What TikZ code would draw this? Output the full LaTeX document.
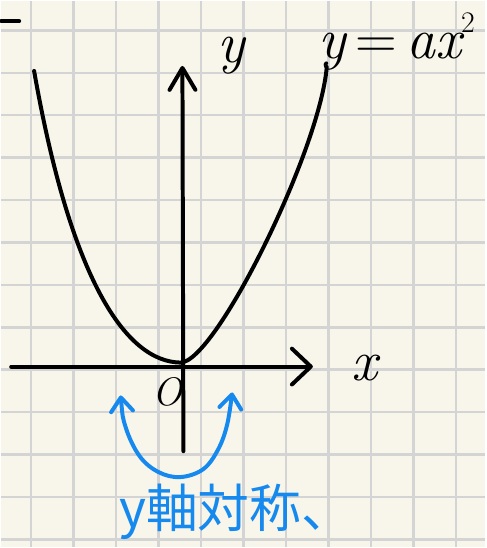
\documentclass[tikz,border=0pt]{standalone}
\usepackage{fontspec}
\newfontfamily\jpfont{Noto Sans CJK JP}
\usetikzlibrary{arrows.meta}
\definecolor{paper}{RGB}{248,246,235}
\definecolor{gridline}{RGB}{212,212,212}
\definecolor{pen}{RGB}{22,137,238}

\begin{document}
\begin{tikzpicture}[
  x=1pt, y=-1pt,
  ink/.style={line width=4pt, line cap=round, line join=round, black},
  axis/.style={ink, -{Straight Barb[round, length=19pt, width=36pt]}},
  axislabel/.style={font=\fontsize{58}{62}\selectfont\itshape, inner sep=0pt},
  notetext/.style={text=pen, font=\jpfont\fontsize{52}{56}\selectfont, inner sep=0pt},
  mirror/.style={line width=4pt, line cap=round, line join=round, draw=pen,
    {Straight Barb[round, length=14pt, width=22pt]}-{Straight Barb[round, length=14pt, width=22pt]}}
]
% squared paper
\fill[paper] (0,0) rectangle (486,548);
\foreach \i in {0,...,10}
  \draw[gridline, line width=2.5pt] ({30+42.7*\i},0) -- ({30+42.7*\i},548);
\foreach \j in {0,...,12}
  \draw[gridline, line width=2.5pt] (0,{29.3+42.6*\j}) -- (486,{29.3+42.6*\j});
\useasboundingbox (0,0) rectangle (486,548);

% axes
\coordinate (xs) at (10,367);
\coordinate (xe) at (313,367);
\coordinate (ys) at (183,452);
\coordinate (ye) at (182,65);
\draw[axis] (xs) -- (xe);
\draw[ink, -{Straight Barb[round, length=22pt, width=26pt]}] (ys) -- (ye);

% parabola
\coordinate (top l) at (33,70);
\coordinate (vertex) at (180,363);
\coordinate (top r) at (327,66);
\draw[ink] (top l) .. controls (70,280) and (125,362) .. (vertex)
  .. controls (215,363) and (320,150) .. (top r);
\draw[ink] (0,20) -- (18,20);

% labels
\node[axislabel, anchor=base] (ylab) at (231,62) {y};
\node[axislabel, anchor=base] (xlab) at (365,381) {x};
\node[axislabel, font=\fontsize{40}{44}\selectfont\itshape] (olab) at (167,392) {O};
\node[axislabel, anchor=base west] (eqlab) at (318,58)
  {y\,\upshape=\,\itshape ax\raisebox{0.45em}{\fontsize{30}{32}\selectfont\upshape 2}};

% symmetry note
\coordinate (la) at (120,396);
\coordinate (ra) at (232,393);
\draw[mirror] plot[smooth, tension=0.6] coordinates {
  (la) (125,428) (139,457) (158,473) (180,478) (203,470) (218,450) (227,425) (ra)};
\node[notetext] (note) at (236,513) {y軸対称、};
\end{tikzpicture}
\end{document}
